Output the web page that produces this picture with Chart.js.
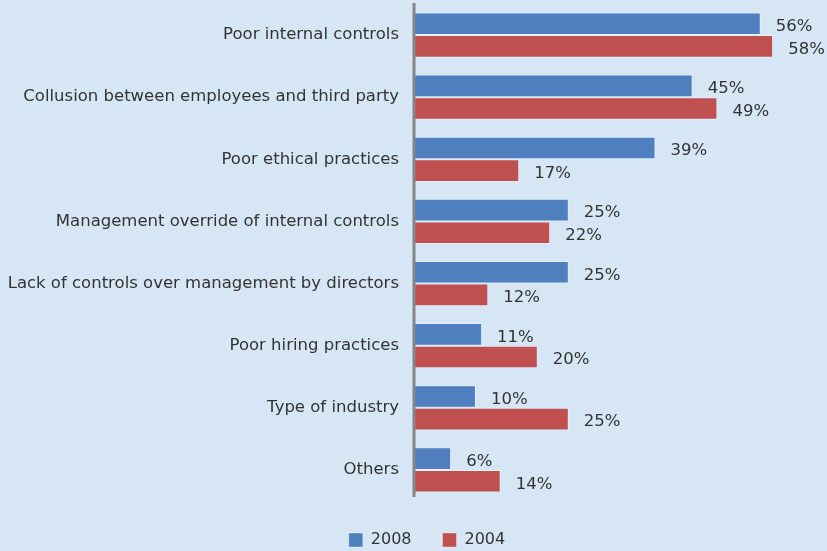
<!DOCTYPE html>
<html>
<head>
<meta charset="utf-8">
<script src="https://cdn.jsdelivr.net/npm/chart.js@4.4.1/dist/chart.umd.min.js"></script>
<style>
  html, body { margin: 0; padding: 0; background: #d6e6f5; }
  #wrap { width: 827px; height: 551px; }
</style>
</head>
<body>
<div id="wrap"><canvas id="c" width="827" height="551"></canvas></div>
<script>
const categories = [
  'Poor internal controls',
  'Collusion between employees and third party',
  'Poor ethical practices',
  'Management override of internal controls',
  'Lack of controls over management by directors',
  'Poor hiring practices',
  'Type of industry',
  'Others'
];
const series2008 = [56, 45, 39, 25, 25, 11, 10, 6];
const series2004 = [58, 49, 17, 22, 12, 20, 25, 14];
const seriesNames = ['2008', '2004'];

const TEXT = '#333333';
const FONT = '"DejaVu Sans", sans-serif';
const FONT_SIZE = 16.5;

// Value labels next to each bar end, plus the grey category axis line
const barLabels = {
  id: 'barLabels',
  afterDatasetsDraw(chart) {
    const ctx = chart.ctx;
    const x = chart.scales.x;
    const area = chart.chartArea;
    ctx.save();
    ctx.font = FONT_SIZE + 'px ' + FONT;
    ctx.fillStyle = TEXT;
    ctx.textAlign = 'left';
    ctx.textBaseline = 'middle';
    chart.data.datasets.forEach((ds, di) => {
      const meta = chart.getDatasetMeta(di);
      meta.data.forEach((bar, i) => {
        const v = ds.data[i];
        ctx.fillText(v + '%', x.getPixelForValue(v) + 15, bar.y + 3);
      });
    });
    const x0 = x.getPixelForValue(0);
    ctx.strokeStyle = '#858585';
    ctx.lineWidth = 3;
    ctx.beginPath();
    ctx.moveTo(x0, area.top - 1);
    ctx.lineTo(x0, area.bottom - 4);
    ctx.stroke();
    ctx.restore();
  }
};

// Nudge the legend so it sits under the plotted bars
const legendShift = {
  id: 'legendShift',
  afterLayout(chart) {
    const lg = chart.legend;
    if (lg) { lg.left += 13; lg.right += 13; }
  }
};

new Chart(document.getElementById('c'), {
  type: 'bar',
  data: {
    labels: categories,
    datasets: [
      { label: seriesNames[0], data: series2008, backgroundColor: '#4f7fbf',
        borderColor: 'rgba(255,255,255,0.35)', borderWidth: 1,
        barPercentage: 1.0, categoryPercentage: 0.73 },
      { label: seriesNames[1], data: series2004, backgroundColor: '#c0504f',
        borderColor: 'rgba(255,255,255,0.35)', borderWidth: 1,
        barPercentage: 1.0, categoryPercentage: 0.73 }
    ]
  },
  options: {
    indexAxis: 'y',
    responsive: false,
    animation: false,
    layout: { padding: { top: 4, right: 0, left: 1, bottom: 0 } },
    scales: {
      x: {
        min: 0, max: 66.7,
        display: false,
        grid: { display: false }
      },
      y: {
        grid: { display: false, drawTicks: false },
        border: { display: false },
        ticks: { color: TEXT, font: { size: FONT_SIZE, family: FONT }, padding: 15 },
        afterFit(scale) { scale.paddingTop = 0; scale.paddingBottom = 0; }
      }
    },
    plugins: {
      legend: {
        position: 'bottom',
        maxHeight: 50,
        labels: {
          color: TEXT,
          font: { size: 16, family: FONT },
          boxWidth: 14, boxHeight: 14,
          padding: 31
        }
      },
      tooltip: { enabled: false }
    }
  },
  plugins: [barLabels, legendShift]
});
</script>
</body>
</html>
